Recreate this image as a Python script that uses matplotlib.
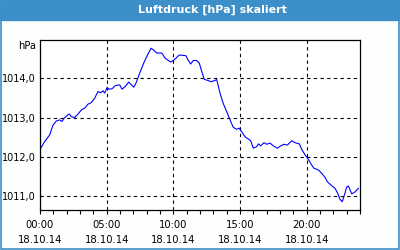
import matplotlib
matplotlib.use("Agg")
import matplotlib.pyplot as plt
from matplotlib.patches import Rectangle

# Luftdruck-Verlauf 18.10.14, Zeit in Stunden
hours = [0.05, 0.35, 0.73, 0.98, 1.22, 1.47, 1.65, 1.8, 2.1, 2.2, 2.35, 2.6, 2.8,
         3.1, 3.35, 3.6, 3.85, 4.1, 4.35, 4.55, 4.73, 4.85, 5.03, 5.17, 5.4, 5.65,
         5.98, 6.15, 6.4, 6.65, 6.8, 7.03, 7.22, 7.48, 7.8, 8.05, 8.33, 8.5, 8.75,
         9.13, 9.38, 9.62, 9.8, 10.0, 10.2, 10.45, 10.7, 10.95, 11.12, 11.3, 11.5,
         11.75, 11.95, 12.13, 12.32, 12.62, 12.8, 13.13, 13.25, 13.5, 13.75, 14.05,
         14.3, 14.5, 14.75, 14.93, 15.12, 15.38, 15.6, 15.8, 16.0, 16.25, 16.38,
         16.55, 16.8, 17.0, 17.25, 17.5, 17.8, 18.05, 18.3, 18.55, 18.88, 19.13,
         19.45, 19.63, 19.88, 20.12, 20.38, 20.55, 20.87, 21.13, 21.38, 21.55,
         21.8, 22.13, 22.33, 22.5, 22.67, 22.83, 23.0, 23.13, 23.38, 23.63, 23.88]
pressure = [1012.22, 1012.39, 1012.56, 1012.81, 1012.91, 1012.94, 1012.9, 1012.98,
            1013.07, 1013.09, 1013.02, 1013.0, 1013.07, 1013.19, 1013.24, 1013.34,
            1013.38, 1013.49, 1013.66, 1013.63, 1013.68, 1013.62, 1013.76, 1013.72,
            1013.73, 1013.81, 1013.83, 1013.72, 1013.79, 1013.9, 1013.85, 1013.77,
            1013.89, 1014.13, 1014.4, 1014.58, 1014.76, 1014.72, 1014.64, 1014.64,
            1014.51, 1014.45, 1014.41, 1014.45, 1014.51, 1014.59, 1014.58, 1014.57,
            1014.45, 1014.36, 1014.45, 1014.45, 1014.38, 1014.17, 1013.97, 1013.94,
            1013.91, 1013.94, 1013.97, 1013.62, 1013.35, 1013.11, 1012.9, 1012.75,
            1012.7, 1012.73, 1012.64, 1012.51, 1012.46, 1012.41, 1012.22, 1012.26,
            1012.33, 1012.28, 1012.36, 1012.32, 1012.35, 1012.28, 1012.22, 1012.28,
            1012.32, 1012.3, 1012.41, 1012.36, 1012.33, 1012.19, 1012.05, 1011.94,
            1011.79, 1011.71, 1011.67, 1011.58, 1011.48, 1011.37, 1011.29, 1011.2,
            1011.07, 1010.92, 1010.86, 1011.03, 1011.23, 1011.26, 1011.06, 1011.11,
            1011.2]

x_ticks = [0, 5, 10, 15, 20]
x_labels = ["00:00\n18.10.14", "05:00\n18.10.14", "10:00\n18.10.14",
            "15:00\n18.10.14", "20:00\n18.10.14"]
y_ticks = [1011, 1012, 1013, 1014]
y_labels = ["1011,0", "1012,0", "1013,0", "1014,0"]

frame_blue = "#3c8fc8"

fig = plt.figure(figsize=(4, 2.5), dpi=100, facecolor="#fcfffc")

# Rahmen und Titelleiste (unter den Achsen)
fig.patches.append(Rectangle((0, 0.92), 1, 0.08, transform=fig.transFigure,
                             color=frame_blue, zorder=-2))
fig.patches.append(Rectangle((0.002, 0.004), 0.996, 0.99, transform=fig.transFigure,
                             fill=False, edgecolor=frame_blue, lw=1.2, zorder=-2))
fig.text(0.53, 0.96, "Luftdruck [hPa] skaliert", color="white",
         fontsize=8, fontweight="bold", ha="center", va="center")

ax = fig.add_axes([0.1, 0.16, 0.8, 0.68])
ax.plot(hours, pressure, color="#0000ff", lw=0.8)

ax.set_xlim(0, 24)
ax.set_ylim(1010.65, 1014.97)
ax.set_xticks(x_ticks)
ax.set_xticklabels(x_labels, fontsize=7.2, linespacing=1.6)
ax.set_xticks(range(0, 25), minor=True)
ax.set_yticks(y_ticks)
ax.set_yticklabels(y_labels, fontsize=7)
ax.tick_params(axis="x", which="both", direction="out", length=3, width=0.8, pad=4)
ax.tick_params(axis="y", length=0, pad=3)
ax.grid(True, which="major", color="black", linestyle=(0, (3, 3)), lw=0.8)
for sp in ax.spines.values():
    sp.set_linewidth(0.9)

# Einheit oben links
ax.text(-0.012, 1014.82, "hPa", transform=ax.get_yaxis_transform(),
        ha="right", va="center", fontsize=7.2)

fig.savefig("out.png", dpi=100, facecolor=fig.get_facecolor())
